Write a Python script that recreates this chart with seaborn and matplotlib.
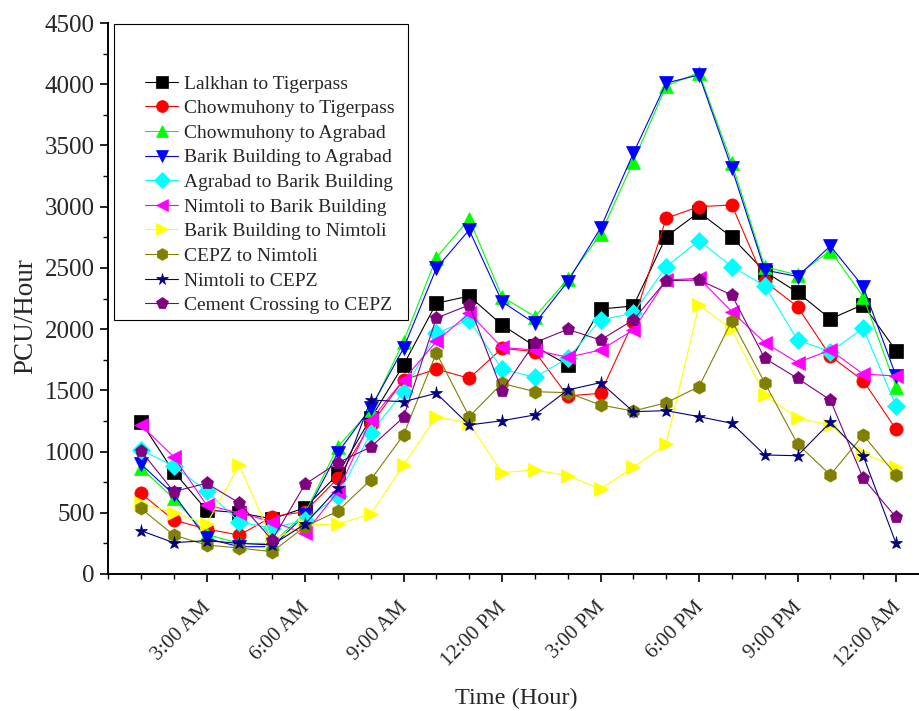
import numpy as np
import pandas as pd
import seaborn as sns
import matplotlib.pyplot as plt
from matplotlib.patches import Rectangle
from matplotlib.ticker import MultipleLocator
from matplotlib.transforms import ScaledTranslation

# Datos (PCU/hora para cada hora del dia)
hours = list(range(1, 25))
tick_hours = [3, 6, 9, 12, 15, 18, 21, 24]
tick_labels = ["3:00 AM", "6:00 AM", "9:00 AM", "12:00 PM",
               "3:00 PM", "6:00 PM", "9:00 PM", "12:00 AM"]

routes = ["Lalkhan to Tigerpass", "Chowmuhony to Tigerpass", "Chowmuhony to Agrabad",
          "Barik Building to Agrabad", "Agrabad to Barik Building", "Nimtoli to Barik Building",
          "Barik Building to Nimtoli", "CEPZ to Nimtoli", "Nimtoli to CEPZ",
          "Cement Crossing to CEPZ"]

lalkhan_tigerpass = [1244, 836, 523, 500, 450, 541, 815, 1270, 1707, 2211, 2270, 2034,
                     1860, 1707, 2164, 2189, 2755, 2955, 2750, 2470, 2300, 2083, 2200, 1824]
chowmuhony_tigerpass = [659, 441, 367, 318, 468, 509, 782, 1217, 1585, 1674, 1598, 1843,
                        1816, 1454, 1476, 2060, 2906, 3000, 3014, 2390, 2183, 1780, 1579, 1182]
chowmuhony_agrabad = [868, 618, 324, 250, 250, 496, 1040, 1340, 1898, 2584, 2900, 2265,
                      2102, 2407, 2774, 3368, 3986, 4095, 3354, 2510, 2442, 2641, 2265, 1530]
barik_agrabad = [898, 650, 291, 223, 223, 482, 991, 1356, 1843, 2497, 2810, 2224,
                 2047, 2388, 2825, 3437, 4010, 4076, 3314, 2483, 2429, 2679, 2347, 1617]
agrabad_barik = [1013, 882, 678, 425, 373, 441, 637, 1151, 1489, 1967, 2075, 1672,
                 1607, 1762, 2075, 2130, 2510, 2723, 2510, 2355, 1911, 1816, 2007, 1372]
nimtoli_barik = [1217, 958, 564, 498, 427, 332, 673, 1258, 1585, 1900, 2129, 1851,
                 1829, 1770, 1829, 1993, 2401, 2415, 2143, 1890, 1727, 1829, 1633, 1617]
barik_nimtoli = [577, 501, 408, 890, 278, 400, 408, 490, 890, 1285, 1231, 828,
                 849, 803, 694, 871, 1062, 2197, 1998, 1462, 1272, 1217, 986, 871]
cepz_nimtoli = [536, 318, 237, 212, 182, 387, 514, 768, 1135, 1805, 1285, 1557,
                1489, 1481, 1380, 1331, 1399, 1530, 2069, 1563, 1062, 809, 1135, 809]
nimtoli_cepz = [354, 256, 272, 250, 237, 408, 700, 1421, 1407, 1476, 1217, 1252,
                1299, 1503, 1563, 1326, 1334, 1285, 1231, 972, 966, 1239, 966, 250]
cement_cepz = [1007, 673, 741, 580, 278, 733, 909, 1037, 1280, 2090, 2197, 1497,
               1890, 1998, 1911, 2075, 2396, 2401, 2279, 1762, 1598, 1421, 782, 463]

series = [lalkhan_tigerpass, chowmuhony_tigerpass, chowmuhony_agrabad, barik_agrabad,
          agrabad_barik, nimtoli_barik, barik_nimtoli, cepz_nimtoli, nimtoli_cepz, cement_cepz]

colors = ["#000000", "#FF0000", "#00FF00", "#0000FF", "#00FFFF",
          "#FF00FF", "#FFFF00", "#808000", "#000080", "#800080"]
markers = ["s", "o", "^", "v", "D", "<", ">", "h", "*", "p"]

# Tabla larga para seaborn
df = pd.concat([pd.DataFrame({"hour": hours, "pcu": vals, "route": name})
                for name, vals in zip(routes, series)], ignore_index=True)

sns.set_style("ticks")
plt.rcParams["font.family"] = ["Liberation Serif", "DejaVu Serif"]

fig = plt.figure(figsize=(9.19, 7.11), dpi=100)
ax = fig.add_axes([108 / 919, 137 / 711, 811 / 919, 551 / 711])

sns.lineplot(data=df, x="hour", y="pcu", hue="route", style="route",
             hue_order=routes, style_order=routes,
             palette=dict(zip(routes, colors)), markers=dict(zip(routes, markers)),
             dashes=False, sort=False, markersize=9.5, linewidth=0.8, legend=False, ax=ax)

for line, name, c in zip(ax.lines, routes, colors):
    line.set_markeredgecolor(c)
    line.set_markeredgewidth(0.5)
    line.set_label(name)

ax.set_xlim(0, 24.7)
ax.set_ylim(0, 4500)
ax.set_xticks(tick_hours)
ax.set_xticklabels(tick_labels, rotation=45, ha="right", va="top", rotation_mode="anchor")
ax.xaxis.set_minor_locator(MultipleLocator(1))
ax.yaxis.set_major_locator(MultipleLocator(500))
ax.yaxis.set_minor_locator(MultipleLocator(250))
ax.tick_params(which="major", direction="out", length=6, width=1.2, color="black")
ax.tick_params(which="minor", direction="out", length=3.5, width=1.0, color="black")
ax.tick_params(axis="x", which="major", pad=10, labelsize=15)
ax.tick_params(axis="y", which="major", labelsize=18)

# desplazar un poco las etiquetas giradas
offset = ScaledTranslation(-0.05, -0.02, fig.dpi_scale_trans)
for lab in ax.get_xticklabels():
    lab.set_transform(lab.get_transform() + offset)

sns.despine(ax=ax)
for s in ["left", "bottom"]:
    ax.spines[s].set_linewidth(1.4)
    ax.spines[s].set_color("black")

ax.set_xlabel("Time (Hour)", fontsize=17.5)
ax.set_ylabel("PCU/Hour", fontsize=19.5)
ax.xaxis.set_label_coords(0.503, -0.206)
ax.yaxis.set_label_coords(-0.086, 0.468)

# Recuadro de la leyenda
box = Rectangle((114 / 919, 1 - 320 / 711), 294 / 919, 296 / 711, transform=fig.transFigure,
                facecolor="white", edgecolor="black", linewidth=0.8, zorder=5)
fig.add_artist(box)
leg = ax.legend(loc="upper left", bbox_to_anchor=(145 / 919, 1 - 75 / 711),
                bbox_transform=fig.transFigure, frameon=False, fontsize=14,
                borderpad=0, borderaxespad=0, labelspacing=0.36, handlelength=1.7,
                handletextpad=0.3, markerscale=0.9)
leg.set_zorder(6)
fig.add_artist(leg)

plt.savefig("out.png", dpi=100)
